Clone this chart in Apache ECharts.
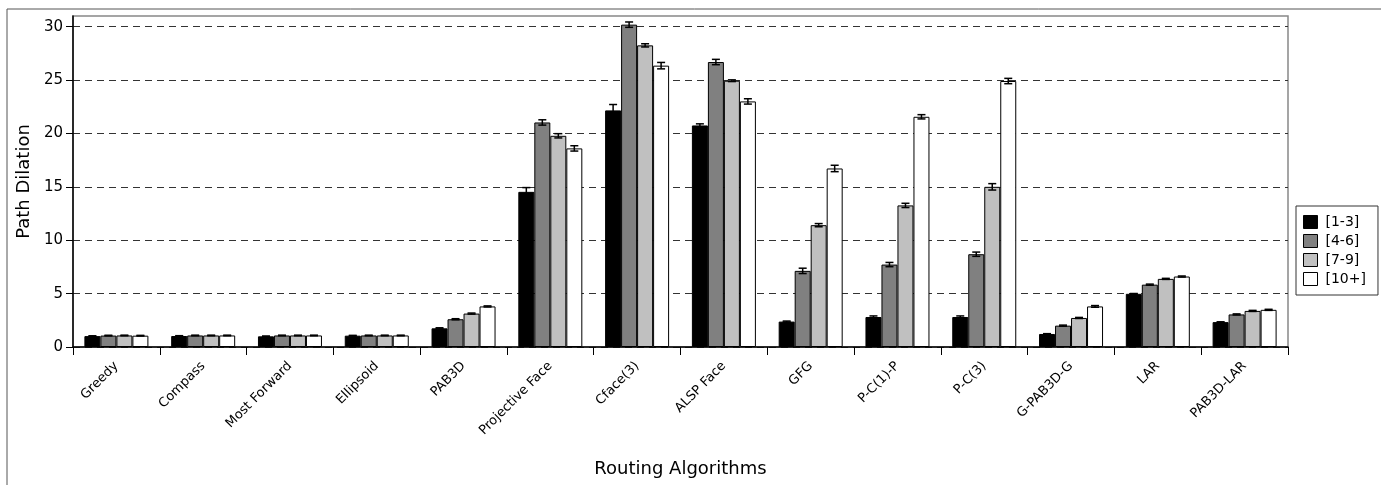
<!DOCTYPE html>
<html>
<head>
<meta charset="utf-8">
<script src="https://cdn.jsdelivr.net/npm/echarts@6/dist/echarts.min.js"></script>
<style>
html,body{margin:0;padding:0;background:#fff;}
#main{width:1381px;height:485px;}
</style>
</head>
<body>
<div id="main"></div>
<script>
const categories = ['Greedy','Compass','Most Forward','Ellipsoid','PAB3D','Projective Face','Cface(3)','ALSP Face','GFG','P-C(1)-P','P-C(3)','G-PAB3D-G','LAR','PAB3D-LAR'];
const seriesNames = ['[1-3]','[4-6]','[7-9]','[10+]'];
const s1 = [1.02, 1.03, 1.00, 1.06, 1.75, 14.53, 22.16, 20.75, 2.38, 2.81, 2.81, 1.22, 4.98, 2.33];
const s2 = [1.07, 1.08, 1.08, 1.08, 2.60, 21.03, 30.19, 26.69, 7.13, 7.72, 8.69, 2.00, 5.84, 3.05];
const s3 = [1.08, 1.08, 1.08, 1.08, 3.13, 19.78, 28.25, 24.94, 11.41, 13.26, 15.00, 2.72, 6.38, 3.38];
const s4 = [1.06, 1.08, 1.08, 1.08, 3.80, 18.60, 26.35, 23.00, 16.72, 21.56, 24.91, 3.80, 6.60, 3.48];
const e1 = [0.03, 0.03, 0.03, 0.03, 0.05, 0.40, 0.55, 0.15, 0.05, 0.10, 0.10, 0.03, 0.03, 0.03];
const e2 = [0.03, 0.03, 0.03, 0.03, 0.05, 0.25, 0.25, 0.25, 0.25, 0.20, 0.20, 0.05, 0.05, 0.05];
const e3 = [0.03, 0.03, 0.03, 0.03, 0.05, 0.20, 0.15, 0.08, 0.15, 0.20, 0.30, 0.05, 0.05, 0.05];
const e4 = [0.03, 0.03, 0.03, 0.03, 0.05, 0.25, 0.30, 0.25, 0.30, 0.20, 0.25, 0.08, 0.05, 0.05];
const yTicks = [0, 5, 10, 15, 20, 25, 30];

const values = [s1, s2, s3, s4];
const errors = [e1, e2, e3, e4];
const colors = ['#000000', '#808080', '#c0c0c0', '#ffffff'];
const BAR_W = 16;
const FONT = 'DejaVu Sans';

const chart = echarts.init(document.getElementById('main'), null, {renderer: 'canvas'});

const series = [];
seriesNames.forEach((name, i) => {
  series.push({
    name: name,
    type: 'bar',
    data: values[i],
    barWidth: BAR_W,
    barGap: '0%',
    itemStyle: {color: colors[i], borderColor: '#000', borderWidth: 1},
    emphasis: {disabled: true},
    z: 2
  });
});
seriesNames.forEach((name, i) => {
  const data = values[i].map((v, k) => [k, v - errors[i][k], v + errors[i][k]]);
  series.push({
    type: 'custom',
    name: 'err' + i,
    data: data,
    z: 5,
    silent: true,
    encode: {x: 0, y: [1, 2]},
    renderItem: function (params, api) {
      const k = api.value(0);
      const lo = api.coord([k, api.value(1)]);
      const hi = api.coord([k, api.value(2)]);
      const x = lo[0] + (i - 1.5) * BAR_W;
      const cw = 4;
      const st = {stroke: '#000', lineWidth: 1.5};
      return {
        type: 'group',
        children: [
          {type: 'line', shape: {x1: x, y1: lo[1], x2: x, y2: hi[1]}, style: st},
          {type: 'line', shape: {x1: x - cw, y1: lo[1], x2: x + cw, y2: lo[1]}, style: st},
          {type: 'line', shape: {x1: x - cw, y1: hi[1], x2: x + cw, y2: hi[1]}, style: st}
        ]
      };
    }
  });
});

const option = {
  animation: false,
  backgroundColor: '#fff',
  textStyle: {fontFamily: FONT},
  graphic: [{
    type: 'rect',
    shape: {x: 7, y: 9, width: 1500, height: 600},
    style: {fill: 'none', stroke: '#555', lineWidth: 1},
    z: -10
  }],
  grid: {
    left: 73, right: 93, top: 16, bottom: 138,
    show: true, borderColor: '#888', borderWidth: 1.5, backgroundColor: 'transparent'
  },
  legend: {
    data: seriesNames.map(n => ({name: n, icon: 'rect'})),
    orient: 'vertical',
    left: 1296,
    top: 206,
    itemWidth: 14,
    itemHeight: 13,
    itemGap: 5,
    padding: [9, 12, 9, 7],
    borderColor: '#333',
    borderWidth: 1,
    backgroundColor: '#fff',
    selectedMode: false,
    itemStyle: {borderColor: '#000', borderWidth: 1},
    textStyle: {fontFamily: FONT, fontSize: 14, color: '#000', padding: [0, 0, 0, 3]}
  },
  xAxis: {
    type: 'category',
    data: categories,
    name: 'Routing Algorithms',
    nameLocation: 'middle',
    nameGap: 113,
    nameTextStyle: {fontFamily: FONT, fontSize: 18, color: '#000'},
    axisLine: {lineStyle: {color: '#000', width: 1.5}},
    axisTick: {show: true, length: 8, alignWithLabel: false, lineStyle: {color: '#000'}},
    axisLabel: {rotate: 45, fontFamily: FONT, fontSize: 13, color: '#000', margin: 17, interval: 0},
    splitLine: {show: false}
  },
  yAxis: {
    type: 'value',
    min: 0,
    max: 31,
    interval: 5,
    name: 'Path Dilation',
    nameLocation: 'middle',
    nameGap: 38,
    nameTextStyle: {fontFamily: FONT, fontSize: 18, color: '#000'},
    axisLine: {show: true, lineStyle: {color: '#000', width: 1.5}},
    axisTick: {show: true, length: 7, customValues: yTicks, lineStyle: {color: '#000'}},
    axisLabel: {
      fontFamily: FONT, fontSize: 15, color: '#000', margin: 10,
      customValues: yTicks
    },
    splitLine: {show: true, lineStyle: {color: '#333', type: [7, 5], width: 1}}
  },
  series: series
};
chart.setOption(option);
</script>
</body>
</html>
